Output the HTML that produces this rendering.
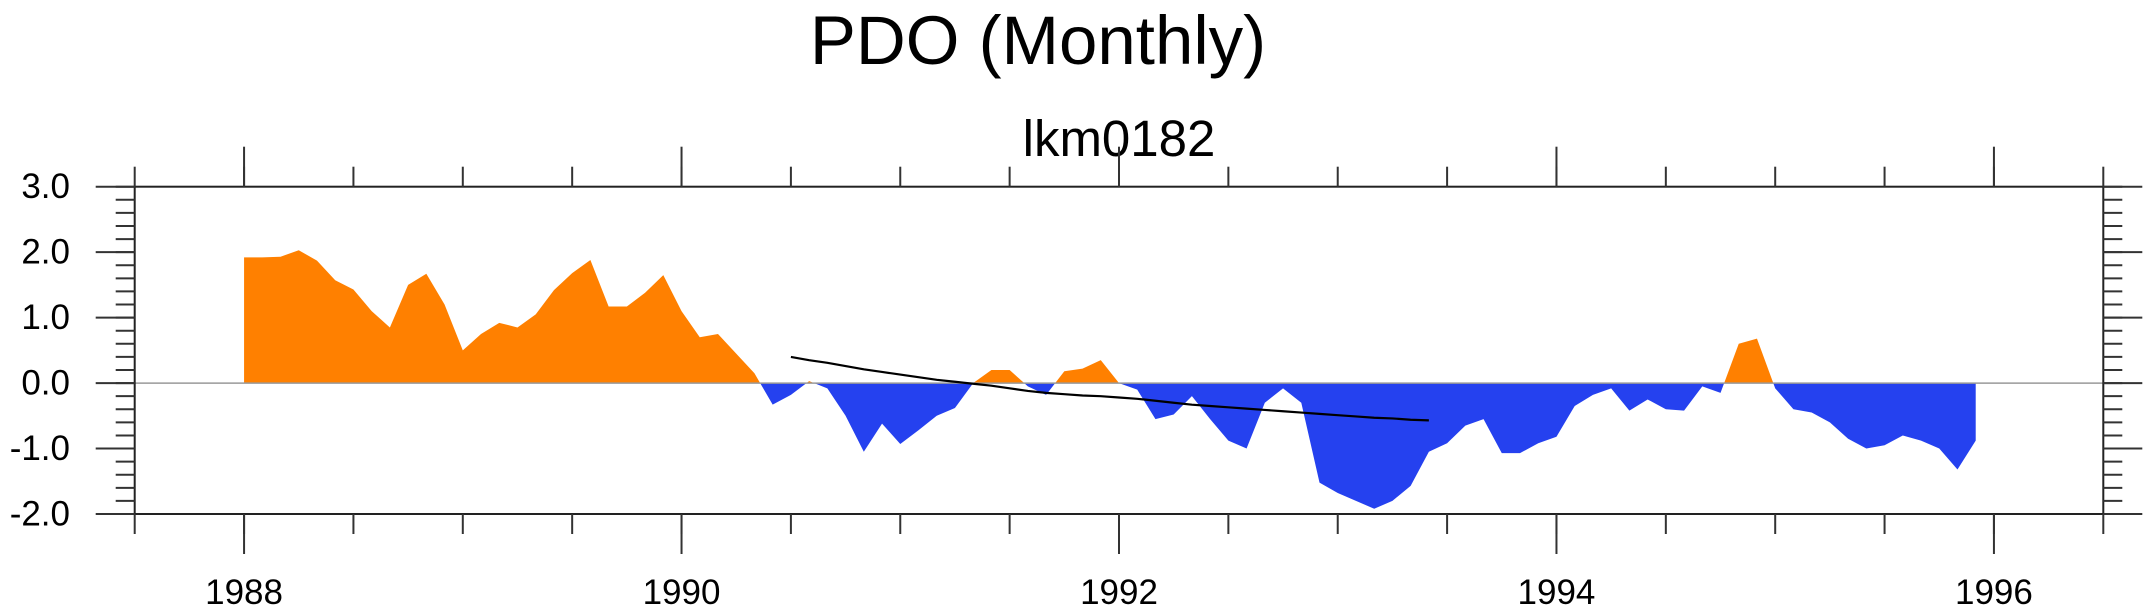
<!DOCTYPE html>
<html><head><meta charset="utf-8"><style>
html,body{margin:0;padding:0;background:#fff;}
svg{display:block;font-family:"Liberation Sans",Arial,sans-serif;}
</style></head><body>
<svg id="chart" width="2151" height="616" viewBox="0 0 2151 616" xmlns="http://www.w3.org/2000/svg">
<text x="1038" y="64" font-size="69" text-anchor="middle" fill="#000">PDO (Monthly)</text>
<text x="1119" y="156" font-size="51" text-anchor="middle" fill="#000">lkm0182</text>
<defs>
<clipPath id="clipPos"><rect id="cpPos" x="0" y="0" width="2151" height="0"/></clipPath>
<clipPath id="clipNeg"><rect id="cpNeg" x="0" y="0" width="2151" height="616"/></clipPath>
</defs>
<g id="plot"></g>
</svg>
<script>
const startYear = 1988;
const pdoValues = [
1.92,1.92,1.93,2.03,1.87,1.57,1.43,1.10,0.85,1.50,1.67,1.20,
0.50,0.75,0.92,0.85,1.05,1.42,1.68,1.88,1.17,1.17,1.38,1.65,
1.10,0.70,0.75,0.45,0.15,-0.33,-0.18,0.03,-0.08,-0.50,-1.05,-0.62,
-0.93,-0.72,-0.50,-0.38,0.00,0.20,0.20,-0.05,-0.18,0.18,0.22,0.35,
0.00,-0.10,-0.55,-0.48,-0.20,-0.55,-0.88,-1.00,-0.30,-0.08,-0.30,-1.52,
-1.68,-1.80,-1.92,-1.80,-1.57,-1.05,-0.92,-0.65,-0.55,-1.07,-1.07,-0.92,
-0.82,-0.35,-0.18,-0.08,-0.42,-0.25,-0.40,-0.42,-0.05,-0.15,0.60,0.68,
-0.08,-0.40,-0.45,-0.60,-0.85,-1.00,-0.95,-0.80,-0.88,-1.00,-1.32,-0.88
];
const trendStartIndex = 30;
const trendValues = [0.40,0.35,0.31,0.26,0.21,0.17,0.13,0.09,0.05,0.02,-0.01,-0.04,-0.08,-0.12,-0.15,-0.17,-0.19,-0.20,-0.22,-0.24,-0.27,-0.30,-0.33,-0.35,-0.37,-0.39,-0.41,-0.43,-0.45,-0.47,-0.49,-0.51,-0.53,-0.54,-0.56,-0.57];
const yTickValues = [3,2,1,0,-1,-2];
const yTickLabels = ["3.0","2.0","1.0","0.0","-1.0","-2.0"];
const xTickYears = [1988,1990,1992,1994,1996];
const xTickLabels = ["1988","1990","1992","1994","1996"];

const L=134.7,R=2103.3,T=186.7,B=514;
const xMin=1987.5,xMax=1996.5,yMin=-2,yMax=3;
const xs=v=>L+(v-xMin)/(xMax-xMin)*(R-L);
const ys=v=>B-(v-yMin)/(yMax-yMin)*(B-T);
const NS="http://www.w3.org/2000/svg";
const g=document.getElementById('plot');
function mk(tag,attrs){const e=document.createElementNS(NS,tag);for(const k in attrs)e.setAttribute(k,attrs[k]);return e;}
const y0=ys(0);
document.getElementById('cpPos').setAttribute('height',y0);
document.getElementById('cpNeg').setAttribute('y',y0);
let d='M'+xs(startYear)+','+y0;
pdoValues.forEach((v,i)=>{d+=' L'+xs(startYear+i/12).toFixed(2)+','+ys(v).toFixed(2);});
d+=' L'+xs(startYear+(pdoValues.length-1)/12).toFixed(2)+','+y0+' Z';
const pos=mk('path',{d:d,fill:'#ff8000','clip-path':'url(#clipPos)'});


g.appendChild(pos);
const neg=mk('path',{d:d,fill:'#2541ef','clip-path':'url(#clipNeg)'});


g.appendChild(neg);
const zl=mk('line',{x1:L,x2:R,y1:y0,y2:y0,stroke:'#999','stroke-width':1.5});


g.appendChild(zl);
let td='';
trendValues.forEach((v,i)=>{td+=(i?' L':'M')+xs(startYear+(trendStartIndex+i)/12).toFixed(2)+','+ys(v).toFixed(2);});
const tl=mk('path',{d:td,fill:'none',stroke:'#000','stroke-width':2.2});


g.appendChild(tl);
const fr=mk('rect',{x:L,y:T,width:R-L,height:B-T,fill:'none',stroke:'#222','stroke-width':2});


g.appendChild(fr);
const sk={stroke:'#333','stroke-width':2};
for(let v=yMin;v<=yMax+1e-9;v+=0.2){const y=ys(v);
 const a=mk('line',Object.assign({x1:L-19,x2:L,y1:y,y2:y},sk));g.appendChild(a);
 const b=mk('line',Object.assign({x1:R,x2:R+19,y1:y,y2:y},sk));g.appendChild(b);}
yTickValues.forEach((v,i)=>{const y=ys(v);
 const a=mk('line',Object.assign({x1:L-39,x2:L,y1:y,y2:y},sk));g.appendChild(a);
 const b=mk('line',Object.assign({x1:R,x2:R+39,y1:y,y2:y},sk));g.appendChild(b);
 const t=mk('text',{x:70,y:y+11.5,'font-size':35,'text-anchor':'end',fill:'#000'});t.textContent=yTickLabels[i];
 g.appendChild(t);});
for(let v=xMin;v<=xMax+1e-9;v+=0.5){const x=xs(v);
 const a=mk('line',Object.assign({x1:x,x2:x,y1:T-20,y2:T},sk));g.appendChild(a);
 const b=mk('line',Object.assign({x1:x,x2:x,y1:B,y2:B+20},sk));g.appendChild(b);}
xTickYears.forEach((v,i)=>{const x=xs(v);
 const a=mk('line',Object.assign({x1:x,x2:x,y1:T-40,y2:T},sk));g.appendChild(a);
 const b=mk('line',Object.assign({x1:x,x2:x,y1:B,y2:B+40},sk));g.appendChild(b);
 const t=mk('text',{x:x,y:604,'font-size':35,'text-anchor':'middle',fill:'#000'});t.textContent=xTickLabels[i];
 g.appendChild(t);});
</script>
</body></html>
